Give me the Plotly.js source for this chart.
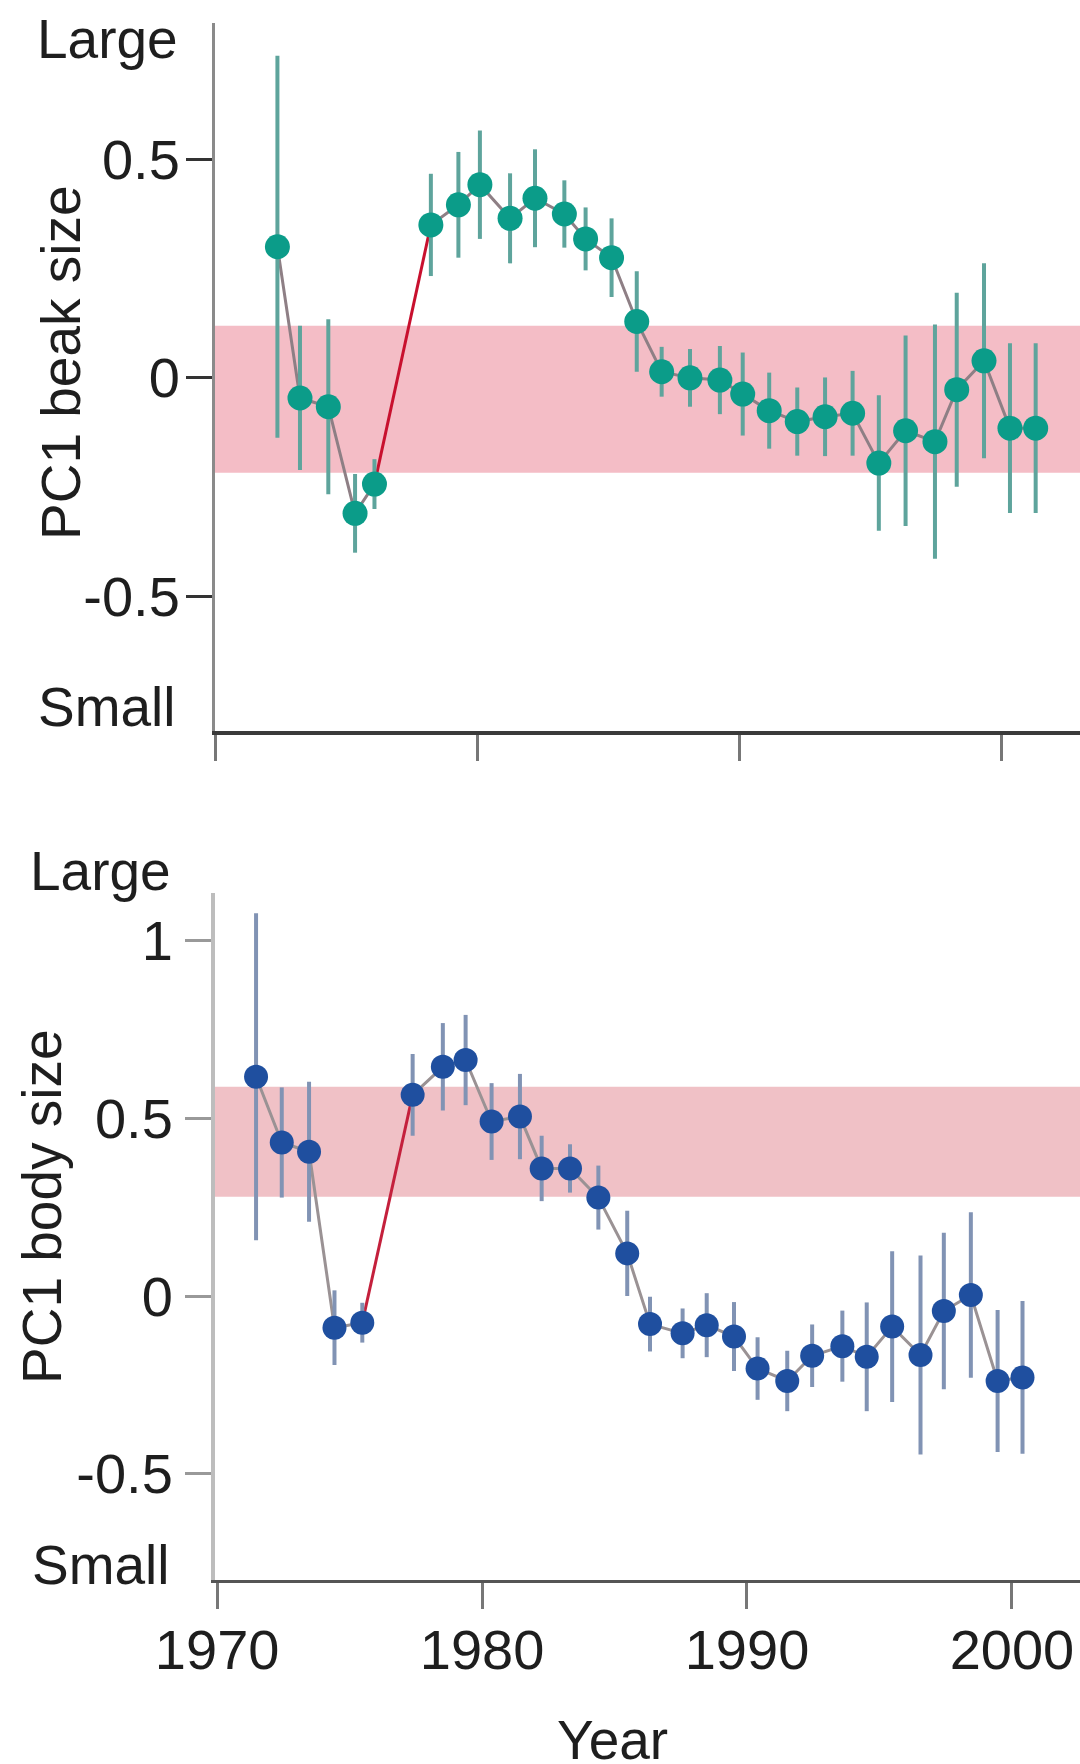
<!DOCTYPE html>
<html>
<head>
<meta charset="utf-8">
<script src="https://cdn.plot.ly/plotly-3.0.1.min.js"></script>
<style>html,body{margin:0;padding:0;background:#fff;}#chart{width:1080px;height:1764px;}</style>
</head>
<body>
<div id="chart"></div>
<script>
// ---- Data ----
const beakYears = [1972.38, 1973.24, 1974.32, 1975.34, 1976.08, 1978.23, 1979.28, 1980.10, 1981.25, 1982.20, 1983.32, 1984.13, 1985.12, 1986.08, 1987.03, 1988.11, 1989.25, 1990.12, 1991.13, 1992.20, 1993.26, 1994.31, 1995.31, 1996.33, 1997.45, 1998.28, 1999.32, 2000.31, 2001.29];
const beakPC1 = [0.300, -0.046, -0.066, -0.310, -0.243, 0.350, 0.396, 0.442, 0.365, 0.411, 0.375, 0.318, 0.275, 0.129, 0.014, 0.000, -0.005, -0.037, -0.075, -0.100, -0.089, -0.081, -0.195, -0.121, -0.146, -0.027, 0.039, -0.115, -0.115];
const beakErr = [0.437, 0.165, 0.200, 0.090, 0.057, 0.117, 0.121, 0.124, 0.103, 0.112, 0.077, 0.072, 0.090, 0.115, 0.057, 0.066, 0.078, 0.095, 0.087, 0.078, 0.090, 0.097, 0.155, 0.218, 0.268, 0.222, 0.223, 0.194, 0.194];

const bodyYears = [1971.47, 1972.44, 1973.47, 1974.43, 1975.48, 1977.38, 1978.52, 1979.38, 1980.36, 1981.43, 1982.25, 1983.32, 1984.39, 1985.48, 1986.34, 1987.57, 1988.48, 1989.51, 1990.40, 1991.52, 1992.46, 1993.60, 1994.52, 1995.48, 1996.55, 1997.43, 1998.45, 1999.46, 2000.40];
const bodyPC1 = [0.617, 0.432, 0.406, -0.089, -0.075, 0.566, 0.645, 0.664, 0.491, 0.505, 0.359, 0.359, 0.277, 0.120, -0.079, -0.105, -0.082, -0.114, -0.204, -0.239, -0.168, -0.141, -0.171, -0.086, -0.166, -0.042, 0.003, -0.239, -0.229];
const bodyErr = [0.460, 0.155, 0.197, 0.105, 0.056, 0.115, 0.123, 0.127, 0.108, 0.120, 0.092, 0.068, 0.090, 0.120, 0.077, 0.070, 0.090, 0.097, 0.088, 0.085, 0.088, 0.100, 0.153, 0.212, 0.280, 0.220, 0.233, 0.200, 0.215];

// band of the ancestral range (PC1 units)
const beakBand = [-0.217, 0.119];
const bodyBand = [0.279, 0.589];

// red segment: drought-driven shift (index of start point)
const redStart = 4;

const xTickVals = [1970, 1980, 1990, 2000];
const xTickText = ['1970', '1980', '1990', '2000'];
const beakTickVals = [-0.5, 0, 0.5];
const beakTickText = ['-0.5', '0', '0.5'];
const bodyTickVals = [-0.5, 0, 0.5, 1];
const bodyTickText = ['-0.5', '0', '0.5', '1'];

// ---- Styling ----
const FONT = 'Liberation Sans, Arial, sans-serif';
const TXT = '#1e1e1e';

function lineTraces(xs, ys, xa, ya, grey, red) {
  return [
    {x: xs.slice(0, redStart + 1), y: ys.slice(0, redStart + 1), xaxis: xa, yaxis: ya, mode: 'lines', line: {color: grey, width: 3}, hoverinfo: 'skip'},
    {x: xs.slice(redStart + 1), y: ys.slice(redStart + 1), xaxis: xa, yaxis: ya, mode: 'lines', line: {color: grey, width: 3}, hoverinfo: 'skip'},
    {x: xs.slice(redStart, redStart + 2), y: ys.slice(redStart, redStart + 2), xaxis: xa, yaxis: ya, mode: 'lines', line: {color: red, width: 3}, hoverinfo: 'skip'}
  ];
}

const traces = [
  ...lineTraces(beakYears, beakPC1, 'x', 'y', '#8e7f85', '#c8102e'),
  {x: beakYears, y: beakPC1, xaxis: 'x', yaxis: 'y', mode: 'markers',
   marker: {color: '#0b9c89', size: 25},
   error_y: {type: 'data', array: beakErr, visible: true, color: '#5ea49c', thickness: 4, width: 0}},
  ...lineTraces(bodyYears, bodyPC1, 'x2', 'y2', '#9a9294', '#c4203c'),
  {x: bodyYears, y: bodyPC1, xaxis: 'x2', yaxis: 'y2', mode: 'markers',
   marker: {color: '#1f4f9f', size: 24},
   error_y: {type: 'data', array: bodyErr, visible: true, color: '#8193b4', thickness: 4, width: 0}}
];

const tickFont = {family: FONT, size: 56, color: TXT};
const W = 1080, H = 1764;
const px = v => v / W;
const py = v => 1 - v / H;

const layout = {
  width: W, height: H,
  margin: {l: 0, r: 0, t: 0, b: 0},
  paper_bgcolor: '#ffffff', plot_bgcolor: 'rgba(0,0,0,0)',
  showlegend: false,
  font: {family: FONT, color: TXT},
  xaxis: {domain: [px(215), 1], range: [1970, 2002.98], anchor: 'y',
    tickvals: xTickVals, ticktext: xTickText, showticklabels: false,
    ticks: 'outside', ticklen: 26, tickwidth: 3, tickcolor: '#777777',
    showline: true, linecolor: '#3a3a3a', linewidth: 4,
    showgrid: false, zeroline: false, fixedrange: true},
  yaxis: {domain: [py(731), py(23)], range: [-0.808, 0.812], anchor: 'x',
    tickvals: beakTickVals, ticktext: beakTickText, tickfont: tickFont,
    ticks: 'outside', ticklen: 26, tickwidth: 3, tickcolor: '#333333',
    ticklabelstandoff: -5,
    showline: true, linecolor: '#8a8a8a', linewidth: 3,
    showgrid: false, zeroline: false, fixedrange: true},
  xaxis2: {domain: [px(215), 1], range: [1969.92, 2002.57], anchor: 'y2',
    tickvals: xTickVals, ticktext: xTickText, tickfont: tickFont,
    ticks: 'outside', ticklen: 26, tickwidth: 3, tickcolor: '#777777',
    ticklabelstandoff: -7,
    showline: true, linecolor: '#555555', linewidth: 3,
    showgrid: false, zeroline: false, fixedrange: true},
  yaxis2: {domain: [py(1580), py(893)], range: [-0.799, 1.134], anchor: 'x2',
    tickvals: bodyTickVals, ticktext: bodyTickText, tickfont: tickFont,
    ticks: 'outside', ticklen: 26, tickwidth: 3, tickcolor: '#999999',
    ticklabelstandoff: 1,
    showline: true, linecolor: '#bdbdbd', linewidth: 4,
    showgrid: false, zeroline: false, fixedrange: true},
  shapes: [
    {type: 'rect', layer: 'below', xref: 'x domain', yref: 'y', x0: 0, x1: 1, y0: beakBand[0], y1: beakBand[1], fillcolor: '#f4bdc6', line: {width: 0}},
    {type: 'rect', layer: 'below', xref: 'x2 domain', yref: 'y2', x0: 0, x1: 1, y0: bodyBand[0], y1: bodyBand[1], fillcolor: '#f0c1c6', line: {width: 0}}
  ],
  annotations: [
    {text: 'Large', xref: 'paper', yref: 'paper', x: px(180), y: py(39), xanchor: 'right', yanchor: 'middle', showarrow: false, font: {family: FONT, size: 55, color: TXT}},
    {text: 'Small', xref: 'paper', yref: 'paper', x: px(178), y: py(707), xanchor: 'right', yanchor: 'middle', showarrow: false, font: {family: FONT, size: 55, color: TXT}},
    {text: 'Large', xref: 'paper', yref: 'paper', x: px(173), y: py(871), xanchor: 'right', yanchor: 'middle', showarrow: false, font: {family: FONT, size: 55, color: TXT}},
    {text: 'Small', xref: 'paper', yref: 'paper', x: px(172), y: py(1565), xanchor: 'right', yanchor: 'middle', showarrow: false, font: {family: FONT, size: 55, color: TXT}},
    {text: 'PC1 beak size', xref: 'paper', yref: 'paper', x: px(61), y: py(363), xanchor: 'center', yanchor: 'middle', textangle: -90, showarrow: false, font: {family: FONT, size: 55, color: TXT}},
    {text: 'PC1 body size', xref: 'paper', yref: 'paper', x: px(42), y: py(1207), xanchor: 'center', yanchor: 'middle', textangle: -90, showarrow: false, font: {family: FONT, size: 55, color: TXT}},
    {text: 'Year', xref: 'paper', yref: 'paper', x: px(612), y: py(1740), xanchor: 'center', yanchor: 'middle', showarrow: false, font: {family: FONT, size: 55, color: TXT}}
  ]
};

Plotly.newPlot('chart', traces, layout, {displayModeBar: false, staticPlot: true});
</script>
</body>
</html>
